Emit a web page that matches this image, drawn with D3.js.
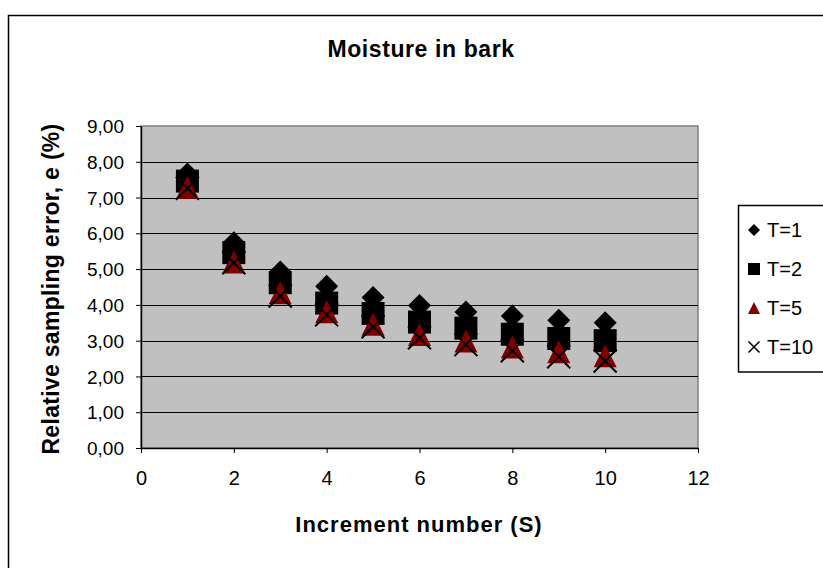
<!DOCTYPE html>
<html>
<head>
<meta charset="utf-8">
<script src="https://cdn.jsdelivr.net/npm/d3@7/dist/d3.min.js"></script>
<style>
  html, body { margin: 0; padding: 0; background: #fff; }
  svg { display: block; font-family: "Liberation Sans", Arial, sans-serif; }
</style>
</head>
<body>
<svg id="chart" width="823" height="568"></svg>
<script>
// Increment numbers (S)
const increments = [1, 2, 3, 4, 5, 6, 7, 8, 9, 10];
// Relative sampling error e (%) per series
const seriesT1  = [7.66, 5.74, 4.92, 4.52, 4.21, 3.98, 3.80, 3.69, 3.57, 3.50];
const seriesT2  = [7.46, 5.46, 4.62, 4.05, 3.76, 3.52, 3.35, 3.18, 3.06, 3.00];
const seriesT5  = [7.28, 5.20, 4.34, 3.81, 3.46, 3.17, 2.99, 2.82, 2.69, 2.58];
const seriesT10 = [7.26, 5.18, 4.25, 3.72, 3.39, 3.08, 2.89, 2.72, 2.55, 2.43];
const seriesNames = ["T=1", "T=2", "T=5", "T=10"];
const yTicks = [0, 1, 2, 3, 4, 5, 6, 7, 8, 9];
const xTicks = [0, 2, 4, 6, 8, 10, 12];

const series = [
  { name: seriesNames[0], shape: "diamond", values: seriesT1 },
  { name: seriesNames[1], shape: "square", values: seriesT2 },
  { name: seriesNames[2], shape: "triangle", values: seriesT5 },
  { name: seriesNames[3], shape: "cross", values: seriesT10 }
];

const svg = d3.select("#chart");
const plot = { left: 141, right: 698, top: 126, bottom: 448 };

const x = d3.scaleLinear().domain([0, 12]).range([plot.left, plot.right]);
const y = d3.scaleLinear().domain([0, 9]).range([plot.bottom, plot.top]);

// marker path builders, s = full marker size
function markerPath(shape, s) {
  const h = s / 2;
  const p = d3.path();
  if (shape === "diamond") {
    p.moveTo(0, -h); p.lineTo(h, 0); p.lineTo(0, h); p.lineTo(-h, 0); p.closePath();
  } else if (shape === "square") {
    p.rect(-h, -h, s, s);
  } else if (shape === "triangle") {
    p.moveTo(0, -h); p.lineTo(h, h); p.lineTo(-h, h); p.closePath();
  } else {
    p.moveTo(-h, -h); p.lineTo(h, h); p.moveTo(h, -h); p.lineTo(-h, h);
  }
  return p.toString();
}
function styleMarker(sel, shape) {
  if (shape === "cross") {
    sel.attr("fill", "none").attr("stroke", "#000").attr("stroke-width", 2);
  } else if (shape === "triangle") {
    sel.attr("fill", "#800000").attr("stroke", "none");
  } else {
    sel.attr("fill", "#000").attr("stroke", "none");
  }
}

// outer chart frame
svg.append("rect")
  .attr("x", 8.5).attr("y", 15.5).attr("width", 900).attr("height", 700)
  .attr("fill", "#fff").attr("stroke", "#000").attr("stroke-width", 1.5);

// plot area background
svg.append("rect")
  .attr("x", plot.left).attr("y", plot.top)
  .attr("width", plot.right - plot.left).attr("height", plot.bottom - plot.top)
  .attr("fill", "#c0c0c0").attr("stroke", "#808080").attr("stroke-width", 1.5);

// horizontal gridlines
svg.append("g").selectAll("line")
  .data(yTicks.filter(t => t > 0 && t < 9))
  .join("line")
  .attr("x1", plot.left).attr("x2", plot.right)
  .attr("y1", d => Math.round(y(d)) + 0.5).attr("y2", d => Math.round(y(d)) + 0.5)
  .attr("stroke", "#000").attr("stroke-width", 1);

const fmt = d => d.toFixed(2).replace(".", ",");

// y axis
const yAxis = svg.append("g")
  .attr("transform", `translate(${plot.left},0)`)
  .call(d3.axisLeft(y).tickValues(yTicks).tickFormat(fmt).tickSize(5).tickSizeOuter(0).tickPadding(12));
yAxis.select(".domain").attr("stroke", "#000").attr("stroke-width", 1.5);
yAxis.selectAll(".tick line").attr("stroke", "#000");
yAxis.selectAll(".tick text")
  .attr("fill", "#000").attr("font-size", 19).attr("font-family", "Liberation Sans, Arial, sans-serif")
  .attr("dy", "0.35em");

// x axis
const xAxis = svg.append("g")
  .attr("transform", `translate(0,${plot.bottom})`)
  .call(d3.axisBottom(x).tickValues(xTicks).tickFormat(d3.format("d")).tickSize(5).tickSizeOuter(0).tickPadding(18));
xAxis.select(".domain").attr("stroke", "#000").attr("stroke-width", 1.5);
xAxis.selectAll(".tick line").attr("stroke", "#000");
xAxis.selectAll(".tick text")
  .attr("fill", "#000").attr("font-size", 20).attr("font-family", "Liberation Sans, Arial, sans-serif");

// data markers, drawn in series order
series.forEach(s => {
  const g = svg.append("g");
  g.selectAll("path")
    .data(increments.map((inc, i) => ({ x: inc, y: s.values[i] })))
    .join("path")
    .attr("d", markerPath(s.shape, 23))
    .attr("transform", d => `translate(${x(d.x)},${y(d.y)})`)
    .call(sel => styleMarker(sel, s.shape));
});

// title
svg.append("text")
  .attr("x", 421).attr("y", 57)
  .attr("text-anchor", "middle").attr("font-size", 23).attr("font-weight", "bold")
  .attr("letter-spacing", 0.6)
  .text("Moisture in bark");

// axis titles
svg.append("text")
  .attr("x", 419).attr("y", 532)
  .attr("text-anchor", "middle").attr("font-size", 22).attr("font-weight", "bold")
  .attr("letter-spacing", 1)
  .text("Increment number (S)");

svg.append("text")
  .attr("transform", "translate(59,289) rotate(-90)")
  .attr("text-anchor", "middle").attr("font-size", 23).attr("font-weight", "bold")
  .attr("letter-spacing", 0.3)
  .text("Relative sampling error, e (%)");

// legend
const legend = svg.append("g");
legend.append("rect")
  .attr("x", 738.5).attr("y", 205.5).attr("width", 200).attr("height", 166.5)
  .attr("fill", "#fff").attr("stroke", "#000").attr("stroke-width", 1.5);
const legendY = d3.scalePoint().domain(seriesNames).range([230, 347]);
series.forEach(s => {
  const cy = legendY(s.name);
  legend.append("path")
    .attr("d", markerPath(s.shape, s.shape === "cross" ? 11 : 12))
    .attr("transform", `translate(754,${cy})`)
    .call(sel => styleMarker(sel, s.shape))
    .attr("stroke-width", s.shape === "cross" ? 1.5 : null);
  legend.append("text")
    .attr("x", 767).attr("y", cy).attr("dy", "0.35em")
    .attr("font-size", 20)
    .text(s.name);
});
</script>
</body>
</html>
